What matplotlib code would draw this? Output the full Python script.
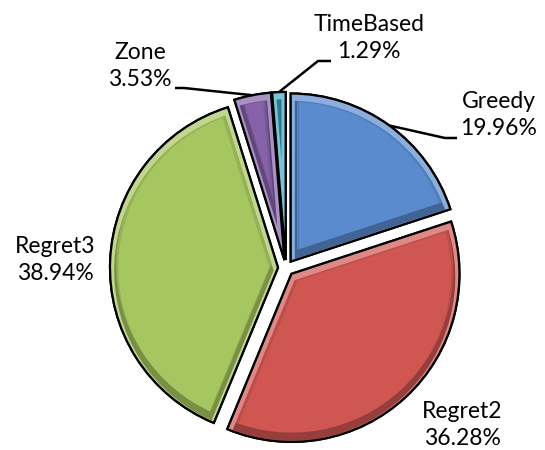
import matplotlib
matplotlib.use('Agg')
import matplotlib.pyplot as plt
import numpy as np
from matplotlib.colors import to_rgb

labels = ['Greedy', 'Regret2', 'Regret3', 'Zone', 'TimeBased']
shares = [19.96, 36.28, 38.94, 3.53, 1.29]
colors = ['#5A8BCF', '#D05652', '#A6C660', '#8562A9', '#42A8C4']

# label text centres and leader-line elbows, in pixels (y up)
label_pos = {
    'Greedy': (499, 335),
    'Regret2': (462, 25),
    'Regret3': (55, 190),
    'Zone': (140, 384),
    'TimeBased': (369, 412),
}
elbows = {
    'Greedy': ((457, 312), (445, 312)),
    'Zone': ((175, 362), (184, 362)),
    'TimeBased': ((331, 389), (318, 389)),
}


def shade(c, f):
    r, g, b = to_rgb(c)
    if f < 1:
        return (r * f, g * f, b * f)
    f = f - 1
    return (r + (1 - r) * f, g + (1 - g) * f, b + (1 - b) * f)


fig = plt.figure(figsize=(5.45, 4.5), dpi=100)
ax = fig.add_axes([0, 0, 1, 1])
plt.rcParams['font.family'] = ['Lato', 'DejaVu Sans']

R = 168
wedges, _ = ax.pie(shares, colors=colors, startangle=90, counterclock=False,
                   center=(286, 182), radius=R, explode=[8] * len(shares),
                   wedgeprops=dict(edgecolor='black', linewidth=1.6))
ax.set_xlim(0, 545)
ax.set_ylim(0, 450)
ax.set_aspect('equal')
ax.axis('off')

# soft bevel: rim shading clipped to each wedge,
# a shadow band shifted up (shows at the bottom) and a highlight shifted down (shows on top)
for w, c in zip(wedges, colors):
    cx, cy = w.center
    bands = [(12, shade(c, 0.9), 0), (9, shade(c, 0.72), 3), (6, shade(c, 1.3), -3)]
    for lw, col, dy in bands:
        band = matplotlib.patches.Wedge((cx, cy + dy), w.r, w.theta1, w.theta2,
                                        facecolor='none', edgecolor=col, linewidth=lw,
                                        zorder=w.get_zorder() + 0.1)
        band.set_clip_path(w)
        ax.add_patch(band)
    outline = matplotlib.patches.Wedge((cx, cy), w.r, w.theta1, w.theta2,
                                       facecolor='none', edgecolor='black', linewidth=1.6,
                                       zorder=w.get_zorder() + 0.2)
    ax.add_patch(outline)

for name, share, w in zip(labels, shares, wedges):
    tx, ty = label_pos[name]
    ax.text(tx, ty, f'{name}\n{share:.2f}%', ha='center', va='center',
            fontsize=16.5, linespacing=1.3, color='black')
    if name in elbows:
        mid = np.deg2rad((w.theta1 + w.theta2) / 2)
        cx, cy = w.center
        anchor = (cx + w.r * np.cos(mid), cy + w.r * np.sin(mid))
        (ex0, ey0), (ex1, ey1) = elbows[name]
        ax.plot([ex0, ex1, anchor[0]], [ey0, ey1, anchor[1]], color='black',
                linewidth=1.8, solid_capstyle='butt', zorder=5)

fig.savefig('out.png', dpi=100)
